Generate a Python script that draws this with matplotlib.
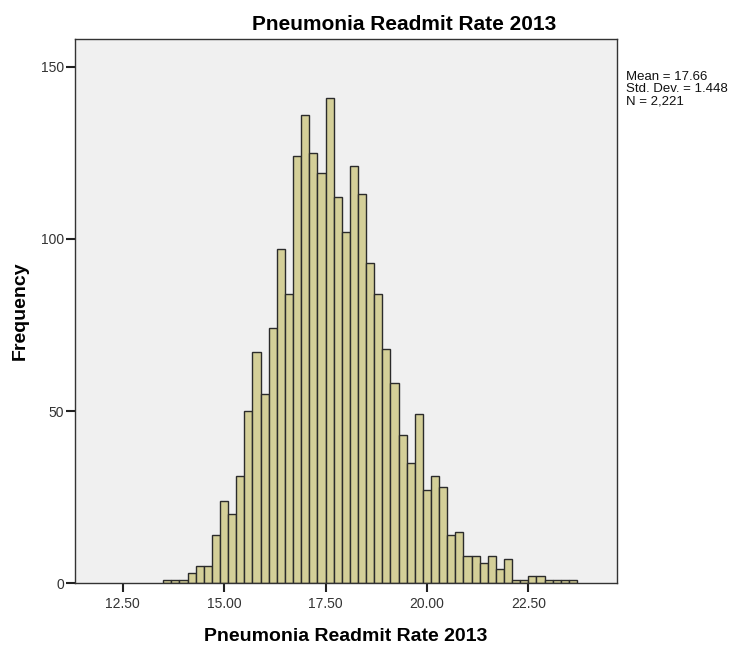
"""
Histogramme du taux de réadmission pour pneumonie (2013)
"""
import numpy as np
import matplotlib.pyplot as plt

plt.rcParams['font.family'] = ['Liberation Sans', 'DejaVu Sans']

# Données
bin_start = 13.5
bin_width = 0.2
counts = [1, 1, 1, 3, 5, 5, 14, 24, 20, 31,
          50, 67, 55, 74, 97, 84, 124, 136, 125, 119,
          141, 112, 102, 121, 113, 93, 84, 68, 58, 43,
          35, 49, 27, 31, 28, 14, 15, 8, 8, 6,
          8, 4, 7, 1, 1, 2, 2, 1, 1, 1, 1]
x_ticks = [12.5, 15.0, 17.5, 20.0, 22.5]
y_ticks = [0, 50, 100, 150]
stats_text = "Mean = 17.66\nStd. Dev. = 1.448\nN = 2,221"

edges = bin_start + bin_width * np.arange(len(counts) + 1)

fig = plt.figure(figsize=(7.41, 6.45), dpi=100)
ax = fig.add_axes([0.1012, 0.0957, 0.7315, 0.8438])
ax.set_facecolor('#f0f0f0')

ax.bar(edges[:-1], counts, width=bin_width, align='edge',
       color='#d4cf98', edgecolor='#2b2b2b', linewidth=1.0)

ax.set_xlim(11.324, 24.687)
ax.set_ylim(0, 158)
ax.set_xticks(x_ticks)
ax.set_xticklabels([f"{t:.2f}" for t in x_ticks])
ax.set_yticks(y_ticks)
ax.tick_params(direction='out', length=6.5, width=1.5, colors='#222222',
               labelsize=10, labelcolor='#333333')
ax.tick_params(axis='x', pad=3.5)
ax.tick_params(axis='y', pad=1.5)

for side in ['left', 'bottom', 'right', 'top']:
    ax.spines[side].set_color('#333333')
    ax.spines[side].set_linewidth(1.0)

# Titre (aligné à gauche comme dans SPSS)
fig.text(252 / 741, 1 - 29.5 / 645, 'Pneumonia Readmit Rate 2013',
         fontsize=15, fontweight='bold', ha='left', va='baseline')
ax.set_xlabel('Pneumonia Readmit Rate 2013', fontsize=14, fontweight='bold', labelpad=12)
ax.set_ylabel('Frequency', fontsize=14, fontweight='bold', labelpad=9)

fig.text(626 / 741, 1 - 71 / 645, stats_text, fontsize=9.5, va='top', ha='left',
         linespacing=1.0, color='#111111')

plt.savefig('out.png', dpi=100)
